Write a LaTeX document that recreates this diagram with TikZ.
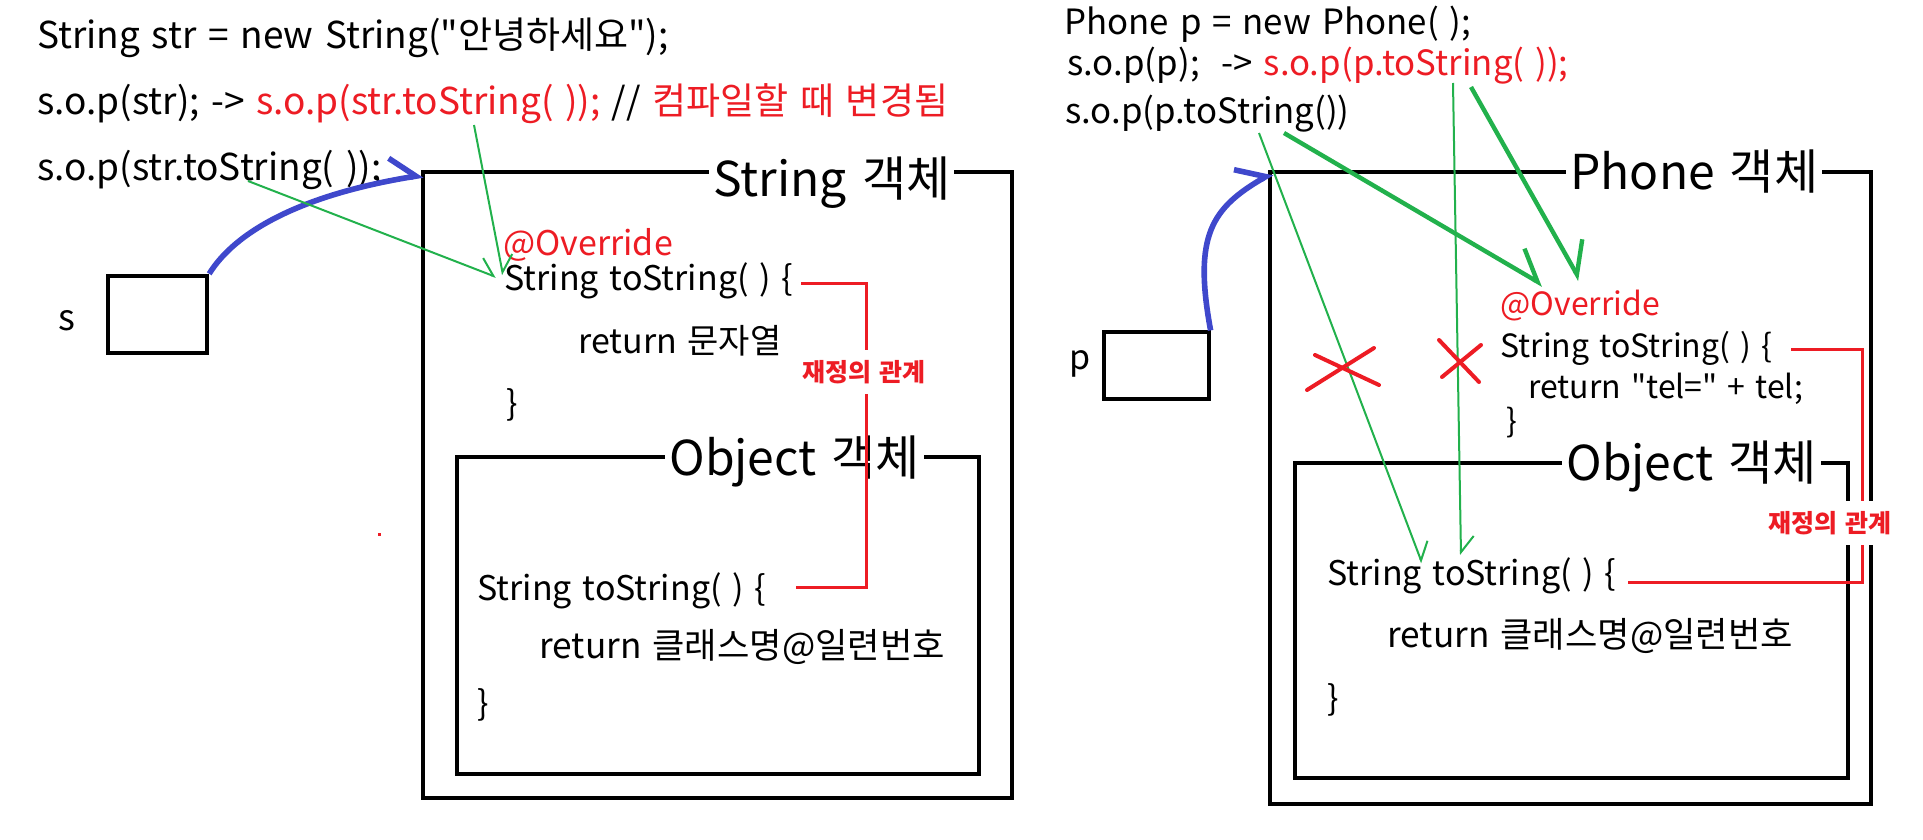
\documentclass[tikz,border=0pt]{standalone}
\usepackage{fontspec}
\setmainfont{Noto Sans CJK KR}[WordSpace=1.4]
\usetikzlibrary{arrows.meta}
\definecolor{pred}{HTML}{ED1C24}
\definecolor{pgreen}{HTML}{22B14C}
\definecolor{pblue}{HTML}{3F48CC}
\tikzset{code/.style={anchor=base west,inner sep=0,font=\fontsize{17}{17}\selectfont}}
\tikzset{big code/.style={code,font=\fontsize{18.5}{18.5}\selectfont}}
\tikzset{top code/.style={code,font=\fontsize{17.4}{17.4}\selectfont}}
\tikzset{small code/.style={code,font=\fontsize{16}{16}\selectfont}}
\tikzset{obj title/.style={fill=white,inner xsep=2pt,inner ysep=0,anchor=base west,font=\fontsize{24}{24}\selectfont}}
\tikzset{rel label/.style={fill=white,text=pred,inner xsep=1pt,inner ysep=5pt,font=\bfseries\fontsize{12.5}{12.5}\selectfont}}
\tikzset{obj box/.style={line width=2.3pt}}
\tikzset{var box/.style={draw,line width=2.2pt,inner sep=0}}
\tikzset{call/.style={pgreen,line width=1pt,-{Straight Barb[harpoon,length=8pt,width=13pt]}}}
\tikzset{thick call/.style={pgreen,line width=2.2pt,-{Straight Barb[harpoon,length=14pt,width=22pt]}}}
\tikzset{ref arrow/.style={pblue,line width=2.8pt,-{Straight Barb[harpoon,length=12pt,width=22pt]}}}
\tikzset{relation/.style={pred,line width=1.5pt}}
\tikzset{cross/.style={pred,line width=2pt,line cap=round}}
\def\q{\textquotedbl}

\begin{document}
\begin{tikzpicture}[x=0.5pt,y=-0.5pt]
  \useasboundingbox (0,0) rectangle (1923,840);

  %String 객체
  \draw[obj box] (423,172) rectangle (1012,798);
  \draw[obj box] (457,457) rectangle (979,774);
  \node[obj title] (strtitle) at (709,197) {String 객체};
  \node[obj title] (strobjtitle) at (665,475) {Object 객체};

  %Phone 객체
  \draw[obj box] (1270,172) rectangle (1871,804);
  \draw[obj box] (1295,463) rectangle (1848,778);
  \node[obj title] (phonetitle) at (1566,190) {Phone 객체};
  \node[obj title] (phoneobjtitle) at (1562,480) {Object 객체};

  %코드 (왼쪽)
  \node[big code] (strdecl) at (37,49) {String str = new String(\q 안녕하세요\q);};
  \node[big code] (strcall) at (37,115) {s.o.p(str); -> \textcolor{pred}{s.o.p(str.toString( ));} // \textcolor{pred}{컴파일할 때 변경됨}};
  \node[big code] (strexplicit) at (37,180) {s.o.p(str.toString( ));};
  \node[code] (stroverride) at (503,255) {\textcolor{pred}{@Override}};
  \node[code] (strmethod) at (504,290) {String toString( ) \{};
  \node[code] (strreturn) at (578,353) {return 문자열};
  \node[code] (strclose) at (506,415) {\}};
  \node[code] (strobjmethod) at (477,600) {String toString( ) \{};
  \node[code,font=\fontsize{17.6}{17.6}\selectfont] (strobjreturn) at (539,658) {return 클래스명@일련번호};
  \node[code] (strobjclose) at (477,715) {\}};

  %코드 (오른쪽)
  \node[top code] (phonedecl) at (1064,35) {Phone p = new Phone( );};
  \node[top code] (phonecall) at (1067,76) {s.o.p(p);\ \ -> \textcolor{pred}{s.o.p(p.toString( ));}};
  \node[top code] (phoneexplicit) at (1065,124) {s.o.p(p.toString())};
  \node[small code] (phoneoverride) at (1500,315) {\textcolor{pred}{@Override}};
  \node[small code] (phonemethod) at (1500,357) {String toString( ) \{};
  \node[small code] (phonereturn) at (1528,398) {return \q tel=\q{} + tel;};
  \node[small code] (phoneclose) at (1506,432) {\}};
  \node[code] (phoneobjmethod) at (1327,585) {String toString( ) \{};
  \node[code,font=\fontsize{17.6}{17.6}\selectfont] (phoneobjreturn) at (1387,647) {return 클래스명@일련번호};
  \node[code] (phoneobjclose) at (1327,710) {\}};

  %참조 변수
  \node[var box,minimum width=49.5pt,minimum height=38.5pt] (sbox) at (157.5,314.5) {};
  \node[code,font=\fontsize{18}{18}\selectfont] (slabel) at (58,330) {s};
  \node[var box,line width=1.6pt,minimum width=52.5pt,minimum height=33.5pt] (pbox) at (1156.5,365.5) {};
  \node[code] (plabel) at (1069,369) {p};
  \coordinate (strobj) at (423,175);
  \coordinate (phoneobj) at (1272,173);
  \draw[ref arrow] (sbox.north east) .. controls (235,232) and (300,195) .. (strobj);
  \draw[ref arrow] (pbox.north east) .. controls (1193,235) and (1212,208) .. (phoneobj);

  %재정의 관계
  \draw[relation] (801,283) -- (866,283) -- (866,587) -- (796,587);
  \draw[relation] (1791,349) -- (1862,349) -- (1862,582) -- (1628,582);
  \node[rel label] (strrel) at (864,372) {재정의 관계};
  \node[rel label] (phonerel) at (1830,523) {재정의 관계};
  \fill[pred] (378,533) rectangle (381,536);

  %호출 화살표
  \coordinate (strcallA) at (248,181);
  \coordinate (strcallB) at (474,125);
  \coordinate (strhitA) at (496,277);
  \coordinate (strhitB) at (503,275);
  \draw[call] (strcallA) -- (strhitA);
  \draw[call] (strcallB) -- (strhitB);
  \coordinate (phonecallA) at (1259,133);
  \coordinate (phonecallB) at (1453,83);
  \coordinate (phonecallC) at (1284,133);
  \coordinate (phonecallD) at (1471,87);
  \coordinate (objhitA) at (1422,563);
  \coordinate (objhitB) at (1461,555);
  \coordinate (phonehitA) at (1543,285);
  \coordinate (phonehitB) at (1580,280);
  \draw[call] (phonecallA) -- (objhitA);
  \draw[call] (phonecallB) -- (objhitB);
  \draw[thick call] (phonecallC) -- (phonehitA);
  \draw[thick call] (phonecallD) -- (phonehitB);

  %X 표시
  \draw[cross] (1307,390) -- (1374,348);
  \draw[cross] (1315,355) -- (1379,385);
  \draw[cross] (1439,340) -- (1479,382);
  \draw[cross] (1442,377) -- (1481,345);

\end{tikzpicture}
\end{document}
